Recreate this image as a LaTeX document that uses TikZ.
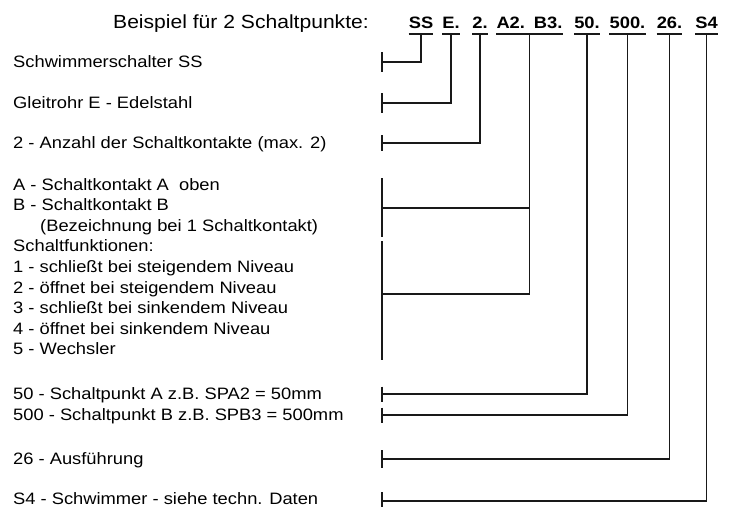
\documentclass[tikz,border=0pt]{standalone}
\usepackage{fontspec}
\setmainfont{Liberation Sans}[FakeStretch=1.11]
\usepackage{tikz}
\usetikzlibrary{positioning, calc}

\begin{document}
\begin{tikzpicture}[
  x=1pt, y=-1pt,
  title/.style={anchor=base west, inner sep=0pt, font=\fontsize{19}{22}\selectfont},
  txt/.style={anchor=base west, inner sep=0pt, font=\fontsize{16.5}{19}\selectfont},
  code/.style={anchor=base, inner sep=0pt, font=\fontsize{16.5}{19}\selectfont\bfseries},
  wire/.style={line width=1.5pt, color=black!90},
  tick/.style={line width=1.8pt, color=black!90},
]
\useasboundingbox (0,0) rectangle (734,507);

% Header — example order code
\node[title] (head) at (113,28) {Beispiel für 2 Schaltpunkte:};
\node[code] (ss)   at (421,28)   {SS};
\node[code] (e)    at (451,28)   {E.};
\node[code] (n2)   at (480,28)   {2.};
\node[code] (ab)   at (529.5,28) {A2.\hspace{9pt}B3.};
\node[code] (p50)  at (587,28)   {50.};
\node[code] (p500) at (627.5,28) {500.};
\node[code] (a26)  at (669.5,28) {26.};
\node[code] (s4)   at (706.5,28) {S4};

% Underlines below the code parts
\coordinate (ul) at (0,34);
\draw[wire] (ss.west |- ul)   -- (ss.east |- ul);
\draw[wire] (e.west |- ul)    -- (e.east |- ul);
\draw[wire] (n2.west |- ul)   -- (n2.east |- ul);
\draw[wire] (ab.west |- ul)   -- (ab.east |- ul);
\draw[wire] (p50.west |- ul)  -- (p50.east |- ul);
\draw[wire] (p500.west |- ul) -- (p500.east |- ul);
\draw[wire] (a26.west |- ul)  -- (a26.east |- ul);
\draw[wire] (s4.west |- ul)   -- (s4.east |- ul);

% Left column — explanations
\node[txt] (txss) at (13,67)  {Schwimmerschalter SS};
\node[txt] (txe)  at (13,108) {Gleitrohr E - Edelstahl};
\node[txt] (txn2) at (13,148) {2 - Anzahl der Schaltkontakte (max. 2)};
\node[txt] (txa)  at (13,190)   {A - Schaltkontakt A\ \ oben};
\node[txt] (txb)  at (13,210.6) {B - Schaltkontakt B};
\node[txt] (txbz) at (40,231.2) {(Bezeichnung bei 1 Schaltkontakt)};
\node[txt] (txfn) at (13,251.8) {Schaltfunktionen:};
\node[txt] (txf1) at (13,272.4) {1 - schließt bei steigendem Niveau};
\node[txt] (txf2) at (13,293)   {2 - öffnet bei steigendem Niveau};
\node[txt] (txf3) at (13,313.6) {3 - schließt bei sinkendem Niveau};
\node[txt] (txf4) at (13,334.2) {4 - öffnet bei sinkendem Niveau};
\node[txt] (txf5) at (13,354.8) {5 - Wechsler};
\node[txt] (tx50)  at (13,399) {50 - Schaltpunkt A z.B. SPA2 = 50mm};
\node[txt] (tx500) at (13,420) {500 - Schaltpunkt B z.B. SPB3 = 500mm};
\node[txt] (tx26)  at (13,464) {26 - Ausführung};
\node[txt] (txs4)  at (13,504.5) {S4 - Schwimmer - siehe techn. Daten};

% Tick points on the bracket column
\coordinate (tss)  at (382,62);
\coordinate (te)   at (382,103);
\coordinate (tn2)  at (382,143);
\coordinate (tab)  at (382,208);
\coordinate (tfn)  at (382,294);
\coordinate (t50)  at (382,394);
\coordinate (t500) at (382,415);
\coordinate (t26)  at (382,459);
\coordinate (ts4)  at (382,501);

% Ticks
\draw[tick] ([yshift=10pt]tss)  -- ([yshift=-10pt]tss);
\draw[tick] ([yshift=10pt]te)   -- ([yshift=-10pt]te);
\draw[tick] ([yshift=8pt]tn2)   -- ([yshift=-8pt]tn2);
\draw[tick] (382,178) -- (382,237);
\draw[tick] (382,241) -- (382,360);
\draw[tick] ([yshift=7.5pt]t50)  -- ([yshift=-7.5pt]t50);
\draw[tick] ([yshift=7.5pt]t500) -- ([yshift=-7.5pt]t500);
\draw[tick] ([yshift=9pt]t26)   -- ([yshift=-9pt]t26);
\draw[tick] ([yshift=9pt]ts4)   -- ([yshift=-6pt]ts4);

% Connectors — code part to explanation
\draw[wire] (ss |- ul)   |- (tss);
\draw[wire] (e |- ul)    |- (te);
\draw[wire] (n2 |- ul)   |- (tn2);
\draw[wire] (ab |- ul)   |- (tfn);
\draw[wire] (ab |- tab)  -- (tab);
\draw[wire] (p50 |- ul)  |- (t50);
\draw[wire] (p500 |- ul) |- (t500);
\draw[wire] (a26 |- ul)  |- (t26);
\draw[wire] (s4 |- ul)   |- (ts4);

\end{tikzpicture}
\end{document}
